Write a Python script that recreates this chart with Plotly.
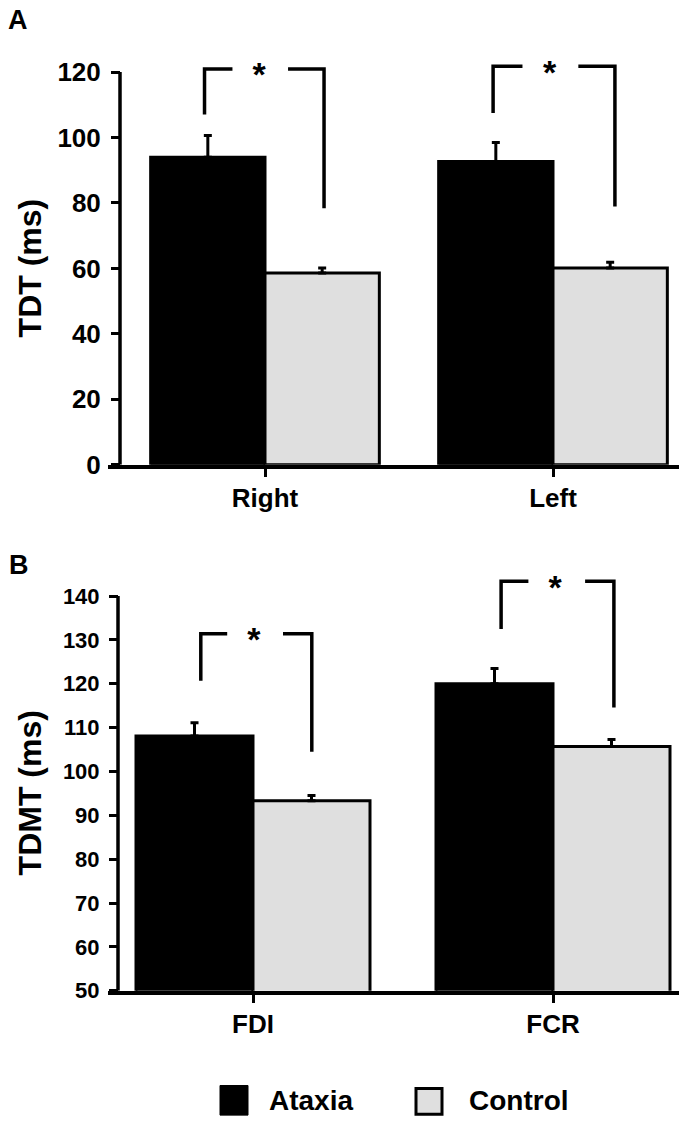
import plotly.graph_objects as go

# ---------------- data ----------------
cats_A = ["Right", "Left"]
ataxia_A = [94.0, 92.7]
ataxia_A_err = [6.6, 5.8]
control_A = [58.6, 60.1]
control_A_err = [1.5, 1.8]

cats_B = ["FDI", "FCR"]
ataxia_B = [108.1, 120.0]
ataxia_B_err = [3.0, 3.5]
control_B = [93.3, 105.7]
control_B_err = [1.2, 1.6]

yticks_A = [0, 20, 40, 60, 80, 100, 120]
yticks_B = [50, 60, 70, 80, 90, 100, 110, 120, 130, 140]

# significance bracket heights (data units)
brA_top = [120.9, 121.8]
brA_left_bottom = [107.0, 107.5]
brA_right_bottom = [78.4, 78.9]
brB_top = [131.4, 143.4]
brB_left_bottom = [120.7, 132.5]
brB_right_bottom = [104.5, 114.6]
star_label = "*"

# ---------------- layout helpers ----------------
W, H = 689, 1139
FONT = "Liberation Sans, Arial, Helvetica, sans-serif"

def px(x):
    return x / W

def py(y):
    return 1 - y / H

BLACK = "#000000"
GRAY = "#dfdfdf"

xl, xr = 108, 679
# Panel A geometry (pixels)
A_axis = 120
A_c0, A_c1 = 265, 553
A_unit = A_c1 - A_c0
A_y0, A_y1 = 471, 73
A_ppu = (A_y0 - A_y1) / 120.0
A_top = 126
# Panel B geometry (pixels)
B_axis = 118
B_c0, B_c1 = 253, 553
B_unit = B_c1 - B_c0
B_y0, B_y1 = 1004, 604
B_ppu = (B_y0 - B_y1) / 90.0
B_top = 146

fig = go.Figure()

def add_panel(xa, ya, cats, at, at_err, ct, ct_err, width, tops, lb, rb, geo, star_drop):
    xs = list(range(len(cats)))
    fig.add_trace(go.Bar(
        x=xs, y=at, width=[width] * len(xs), offset=[-width] * len(xs),
        marker=dict(color=BLACK, line=dict(color=BLACK, width=3)),
        error_y=dict(type="data", array=at_err, arrayminus=[0] * len(at), symmetric=False,
                     color=BLACK, thickness=3, width=4),
        name="Ataxia", showlegend=False, xaxis=xa, yaxis=ya))
    fig.add_trace(go.Bar(
        x=xs, y=ct, width=[width] * len(xs), offset=[0] * len(xs),
        marker=dict(color=GRAY, line=dict(color=BLACK, width=3)),
        error_y=dict(type="data", array=ct_err, arrayminus=[0] * len(ct), symmetric=False,
                     color=BLACK, thickness=3, width=4),
        name="Control", showlegend=False, xaxis=xa, yaxis=ya))
    bx, by, sx, sy = [], [], [], []
    for i, c in enumerate(xs):
        L, gL, s, gR, R = geo[i]
        bx += [c + L, c + L, c + gL, None, c + gR, c + R, c + R, None]
        by += [lb[i], tops[i], tops[i], None, tops[i], tops[i], rb[i], None]
        sx.append(c + s)
        sy.append(tops[i] - star_drop)
    fig.add_trace(go.Scatter(x=bx, y=by, mode="lines", line=dict(color=BLACK, width=3.5),
                             showlegend=False, hoverinfo="skip", xaxis=xa, yaxis=ya))
    fig.add_trace(go.Scatter(x=sx, y=sy, mode="text", text=[star_label] * len(sx),
                             textposition="middle center",
                             textfont=dict(family=FONT, size=34, color=BLACK, weight="bold"),
                             cliponaxis=False, showlegend=False, hoverinfo="skip",
                             xaxis=xa, yaxis=ya))

geoA = [(-0.21, -0.113, -0.02, 0.08, 0.205), (-0.208, -0.106, -0.012, 0.088, 0.215)]
geoB = [(-0.174, -0.086, 0.003, 0.10, 0.196), (-0.173, -0.082, 0.007, 0.107, 0.203)]

add_panel("x", "y", cats_A, ataxia_A, ataxia_A_err, control_A, control_A_err, 0.397,
          brA_top, brA_left_bottom, brA_right_bottom, geoA, 9.0 / A_ppu)
add_panel("x2", "y2", cats_B, ataxia_B, ataxia_B_err, control_B, control_B_err, 0.39,
          brB_top, brB_left_bottom, brB_right_bottom, geoB, 9.0 / B_ppu)

tickfontA = dict(family=FONT, size=26, color=BLACK, weight="bold")
tickfontB = dict(family=FONT, size=22, color=BLACK, weight="bold")
catfont = dict(family=FONT, size=26, color=BLACK, weight="bold")

common_x = dict(showline=True, linecolor=BLACK, linewidth=3.5, ticks="outside", ticklen=8,
                tickwidth=3, tickcolor=BLACK, showgrid=False, zeroline=False,
                tickfont=catfont, fixedrange=True, ticklabelstandoff=-1)
common_y = dict(showline=False, ticks="outside", ticklen=9,
                tickwidth=3, tickcolor=BLACK, showgrid=False, zeroline=False,
                fixedrange=True, ticklabelstandoff=5, anchor="free")

A_xrange = [-(A_c0 - xl) / A_unit, 1 + (xr - A_c1) / A_unit]
B_xrange = [-(B_c0 - xl) / B_unit, 1 + (xr - B_c1) / B_unit]

fig.update_layout(
    width=W, height=H, margin=dict(l=0, r=0, t=0, b=0),
    paper_bgcolor="white", plot_bgcolor="white", barmode="overlay", showlegend=False,
    xaxis=dict(common_x, domain=[px(xl), px(xr)], range=A_xrange,
               tickvals=[0, 1], ticktext=cats_A, anchor="y"),
    yaxis=dict(common_y, domain=[py(A_y0), py(A_y0 - A_top * A_ppu)], range=[0, A_top],
               tickvals=yticks_A, tickfont=tickfontA, position=px(A_axis)),
    xaxis2=dict(common_x, domain=[px(xl), px(xr)], range=B_xrange,
                tickvals=[0, 1], ticktext=cats_B, anchor="y2"),
    yaxis2=dict(common_y, domain=[py(B_y0), py(B_y0 - (B_top - 50) * B_ppu)], range=[50, B_top],
                tickvals=yticks_B, tickfont=tickfontB, position=px(B_axis)),
)

ann_font = lambda s: dict(family=FONT, size=s, color=BLACK, weight="bold")
annotations = [
    dict(text="A", x=px(18), y=py(20), xref="paper", yref="paper", showarrow=False,
         xanchor="center", yanchor="middle", font=ann_font(27)),
    dict(text="B", x=px(19), y=py(573), xref="paper", yref="paper", showarrow=False,
         xanchor="center", yanchor="middle", font=ann_font(27)),
    dict(text="TDT (ms)", x=px(30), y=py(272), xref="paper", yref="paper", showarrow=False,
         textangle=-90, xanchor="center", yanchor="middle", font=ann_font(32)),
    dict(text="TDMT (ms)", x=px(30), y=py(804), xref="paper", yref="paper", showarrow=False,
         textangle=-90, xanchor="center", yanchor="middle", font=ann_font(32)),
    dict(text="Ataxia", x=px(267), y=py(1115), xref="paper", yref="paper", showarrow=False,
         xanchor="left", yanchor="middle", font=ann_font(28)),
    dict(text="Control", x=px(467), y=py(1115), xref="paper", yref="paper", showarrow=False,
         xanchor="left", yanchor="middle", font=ann_font(28)),
]
fig.update_layout(annotations=annotations)

A_axis_x = A_xrange[0] + (A_axis - xl) / A_unit
B_axis_x = B_xrange[0] + (B_axis - xl) / B_unit
shapes = [
    # y-axis lines ending at the top tick
    dict(type="line", xref="x", yref="y", x0=A_axis_x, x1=A_axis_x, y0=yticks_A[0], y1=yticks_A[-1],
         line=dict(color=BLACK, width=3.5)),
    dict(type="line", xref="x2", yref="y2", x0=B_axis_x, x1=B_axis_x, y0=yticks_B[0], y1=yticks_B[-1],
         line=dict(color=BLACK, width=3.5)),
    # legend swatches
    dict(type="rect", xref="paper", yref="paper", x0=px(220), x1=px(248), y0=py(1130), y1=py(1100),
         fillcolor=BLACK, line=dict(color=BLACK, width=1)),
    dict(type="rect", xref="paper", yref="paper", x0=px(416), x1=px(442), y0=py(1129), y1=py(1103),
         fillcolor=GRAY, line=dict(color=BLACK, width=3)),
]
fig.update_layout(shapes=shapes)

fig.write_html("out.html", config={"displayModeBar": False},
               post_script="document.body.style.margin='0';")
